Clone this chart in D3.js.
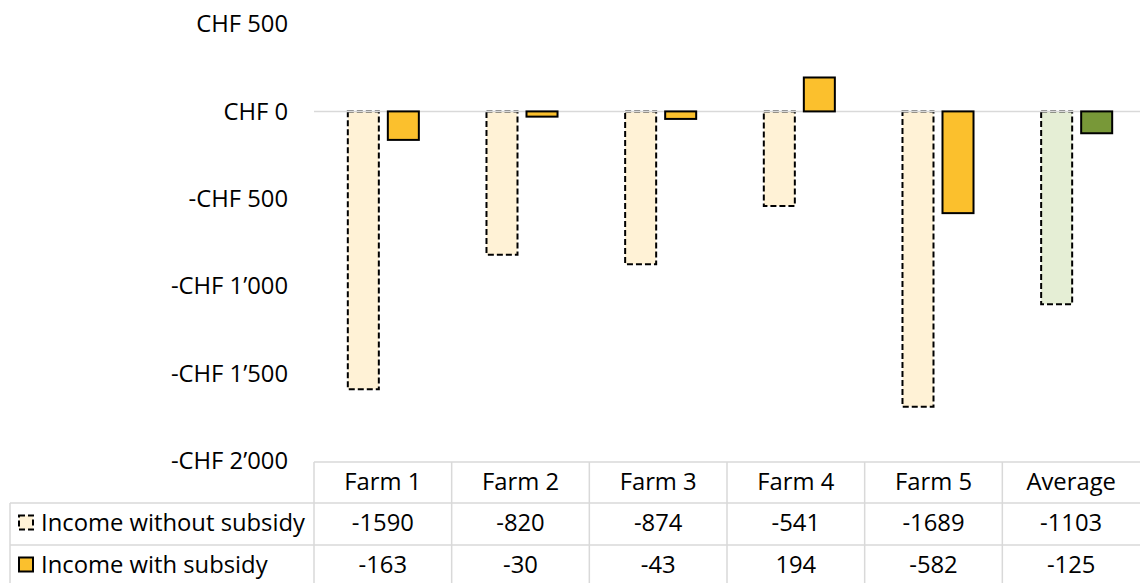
<!DOCTYPE html>
<html><head><meta charset="utf-8">
<script src="https://cdn.jsdelivr.net/npm/d3@7"></script>
<style>body{margin:0;background:#fff}svg{display:block;font-family:"Open Sans",sans-serif}</style>
</head><body><svg id="c" width="1140" height="583"></svg>
<script>
const categories = ["Farm 1","Farm 2","Farm 3","Farm 4","Farm 5","Average"];
const seriesNames = ["Income without subsidy","Income with subsidy"];
const withoutSubsidy = [-1590,-820,-874,-541,-1689,-1103];
const withSubsidy = [-163,-30,-43,194,-582,-125];
const yTicks = [500,0,-500,-1000,-1500,-2000];

const svg = d3.select("#c");
const W = 1140, H = 583;
const plotL = 314, plotR = 1140;
const FS = 23.8;
const y = d3.scaleLinear().domain([-2000,500]).range([461,24]);
const x = d3.scaleBand().domain(categories).range([plotL,plotR]);
const xb = d3.scaleBand().domain(categories).range([plotL,1146]);
const xs = d3.scaleBand().domain([0,1]).range([0,xb.bandwidth()]).paddingInner(0.225).paddingOuter(0.845);
const fmt = v => (v<0?"-":"") + "CHF " + d3.format(",")(Math.abs(v)).replace(/,/g,"’");

const fillW = (c,i) => i===5 ? "#e5eed5" : "#fff2d6";
const fillS = (c,i) => i===5 ? "#789838" : "#fbc02d";

const yAxis = d3.axisLeft(y).tickValues(yTicks).tickFormat(fmt).tickSize(0).tickPadding(0);
const ga = svg.append("g").attr("transform","translate(288,0)").call(yAxis);
ga.select(".domain").remove();
ga.selectAll("text").attr("font-size",FS).attr("fill","#000").attr("font-family","Open Sans");

const bw = xs.bandwidth();
svg.append("g").selectAll("rect").data(withoutSubsidy).join("rect")
  .attr("x",(d,i)=>xb(categories[i])+xs(0))
  .attr("y",d=>y(Math.max(0,d))).attr("width",bw)
  .attr("height",d=>Math.abs(y(d)-y(0)))
  .attr("fill",(d,i)=>fillW(categories[i],i))
  .attr("stroke","#000").attr("stroke-width",2).attr("stroke-dasharray","6,3");
svg.append("line").attr("x1",plotL).attr("x2",plotR).attr("y1",y(0)).attr("y2",y(0))
  .attr("stroke","#d9d9d9").attr("stroke-width",1.5);
svg.append("g").selectAll("rect").data(withSubsidy).join("rect")
  .attr("x",(d,i)=>xb(categories[i])+xs(1))
  .attr("y",d=>y(Math.max(0,d))).attr("width",bw)
  .attr("height",d=>Math.abs(y(d)-y(0)))
  .attr("fill",(d,i)=>fillS(categories[i],i))
  .attr("stroke","#000").attr("stroke-width",2);

const rowTop=[462,503,545,583];
const tg = svg.append("g");
const lc = "#d9d9d9";
tg.append("line").attr("x1",plotL).attr("x2",plotR).attr("y1",rowTop[0]).attr("y2",rowTop[0]).attr("stroke",lc).attr("stroke-width",1.5);
tg.append("line").attr("x1",10).attr("x2",plotR).attr("y1",rowTop[1]).attr("y2",rowTop[1]).attr("stroke",lc).attr("stroke-width",1.5);
tg.append("line").attr("x1",10).attr("x2",plotR).attr("y1",rowTop[2]).attr("y2",rowTop[2]).attr("stroke",lc).attr("stroke-width",1.5);
tg.append("line").attr("x1",10).attr("x2",10).attr("y1",rowTop[1]).attr("y2",H).attr("stroke",lc).attr("stroke-width",1.5);
categories.forEach(c=>{
  tg.append("line").attr("x1",x(c)).attr("x2",x(c)).attr("y1",rowTop[0]).attr("y2",H).attr("stroke",lc).attr("stroke-width",1.5);
});
tg.selectAll("text.h").data(categories).join("text").attr("class","h")
  .attr("x",c=>x(c)+x.bandwidth()/2).attr("y",490)
  .attr("text-anchor","middle").attr("font-size",FS).text(c=>c);
const rowBase=[531,573];
[withoutSubsidy,withSubsidy].forEach((arr,r)=>{
  tg.selectAll("text.v"+r).data(arr).join("text").attr("class","v"+r)
    .attr("x",(d,i)=>x(categories[i])+x.bandwidth()/2).attr("y",rowBase[r])
    .attr("text-anchor","middle").attr("font-size",FS).text(d=>d);
  const cy=rowBase[r]-8.5;
  tg.append("rect").attr("x",19).attr("y",cy-7).attr("width",14).attr("height",14)
    .attr("fill",r===0?"#fff2d6":"#fbc02d").attr("stroke","#000").attr("stroke-width",2)
    .attr("stroke-dasharray",r===0?"6,3":null);
  tg.append("text").attr("x",41).attr("y",rowBase[r]).attr("font-size",FS).text(seriesNames[r]);
});
</script></body></html>
